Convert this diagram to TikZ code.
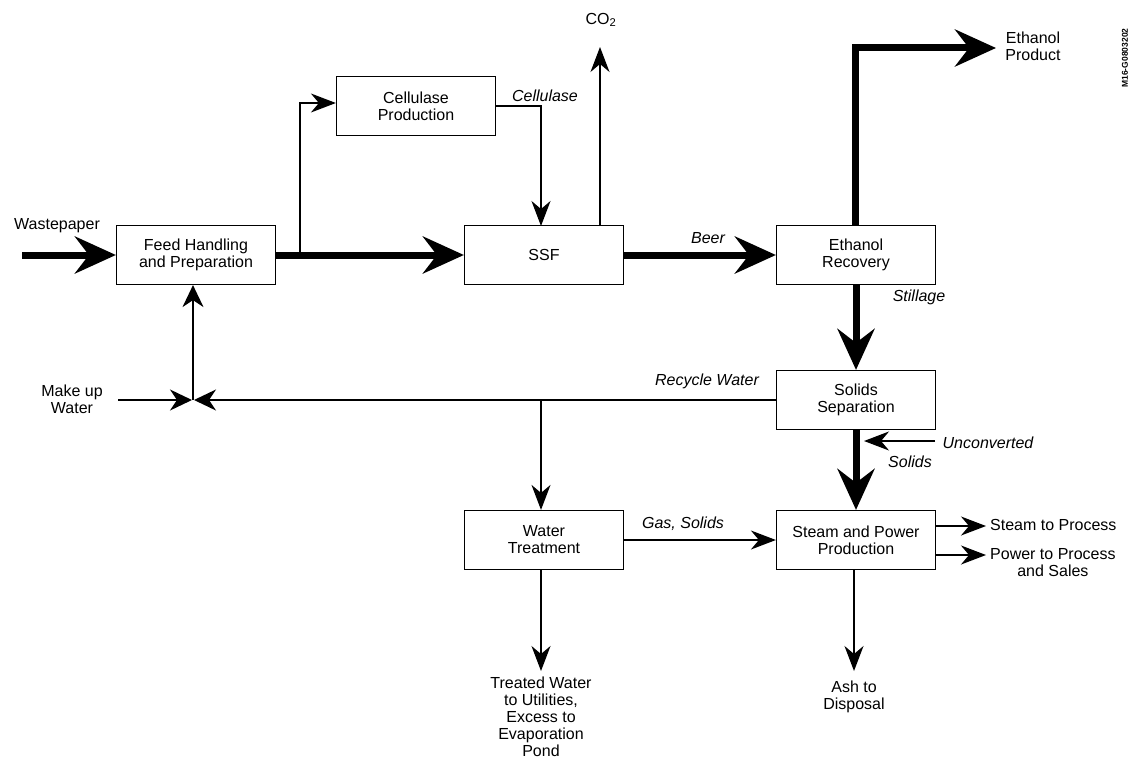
\documentclass[tikz,border=0pt]{standalone}
\usepackage{fontspec}
\setmainfont{Liberation Sans}
\usetikzlibrary{arrows.meta}
\newcommand\lbl{\fontsize{16}{17}\selectfont}
\newcommand\ilbl{\fontsize{16}{17}\selectfont\itshape}
\tikzset{
  box/.style={draw, line width=1.2pt, minimum width=159pt, minimum height=59pt, align=center, inner sep=0pt, font=\lbl},
  txt/.style={align=center, inner sep=0pt, font=\lbl},
  itxt/.style={align=center, inner sep=0pt, font=\ilbl},
  thickflow/.style={line width=7pt, -{Stealth[length=41pt,width=37pt,inset=14pt]}},
  thinflow/.style={line width=1.4pt, -{Stealth[length=25pt,width=19pt,inset=8pt]}},
  smallflow/.style={line width=1.4pt, -{Stealth[length=22pt,width=21pt,inset=7pt]}},
}
\begin{document}
\begin{tikzpicture}[x=1pt,y=-1pt]
\useasboundingbox (0,0) rectangle (1131,760);
% boxes
\node[box] (feed) at (196,255) {Feed Handling\\and Preparation};
\node[box] (cell) at (416,106) {Cellulase\\Production};
\node[box] (ssf)  at (544,255) {SSF};
\node[box] (er)   at (856,255) {Ethanol\\Recovery};
\node[box] (ss)   at (856,400) {Solids\\Separation};
\node[box] (wt)   at (544,540) {Water\\Treatment};
\node[box] (sp)   at (856,540) {Steam and Power\\Production};
% labels
\node[txt] (wpl) at (57,226) {Wastepaper};
\node[txt] (co2l) at (601,20) {CO\textsubscript{2}};
\node[txt] (epl) at (1033,46) {Ethanol\\Product};
\node[txt] (mul) at (72,399) {Make up\\Water};
\node[txt,anchor=west] (stl) at (990,525) {Steam to Process};
\node[txt,anchor=west] (pwl) at (990,563) {Power to Process\\and Sales};
\node[txt] (ashl) at (854,697) {Ash to\\Disposal};
\node[txt,anchor=north] (twl) at (541,677) {Treated Water\\to Utilities,\\Excess to\\Evaporation\\Pond};
\node[itxt] (celll) at (545,96) {Cellulase};
\node[itxt] (beerl) at (708,238) {Beer};
\node[itxt] (stil) at (919,297) {Stillage};
\node[itxt] (rwl) at (707,381) {Recycle Water};
\node[itxt] (ucl) at (988,443) {Unconverted};
\node[itxt] (sol) at (910,462) {Solids};
\node[itxt] (gsl) at (683,524) {Gas, Solids};
\node[rotate=90, inner sep=0pt, font=\fontsize{8.5}{9}\selectfont\bfseries] (code) at (1125,58) {M16-G0803202};
% coordinates
\coordinate (wp) at (22,255);
\coordinate (j1) at (300,255);
\coordinate (c2) at (541,226);
\coordinate (co2s) at (600,226);
\coordinate (co2e) at (600,47);
\coordinate (ep) at (996,48);
\coordinate (mj) at (193,400);
\coordinate (mu) at (118,400);
\coordinate (wb) at (541,400);
\coordinate (ucs) at (935,441);
\coordinate (uce) at (864,441);
\coordinate (ste) at (986,526);
\coordinate (pwe) at (986,555);
\coordinate (ashe) at (854,671);
\coordinate (twe) at (541,671);
% connectors
\draw[thickflow] (wp) -- (feed.west);
\draw[thickflow] (feed.east) -- (ssf.west);
\draw[thinflow] (j1) |- ([yshift=3pt]cell.west);
\draw[thinflow] (cell.east) -| (c2);
\draw[thinflow] (co2s) -- (co2e);
\draw[thickflow] (ssf.east) -- (er.west);
\draw[thickflow] ([xshift=-1pt]er.north) |- (ep);
\draw[thickflow] (er.south) -- (ss.north);
\draw[smallflow] (ss.west) -- ([xshift=1pt]mj);
\draw[smallflow] (mu) -- ([xshift=-1pt]mj);
\draw[smallflow] (mj) -- (feed.south -| mj);
\draw[thinflow] (wb) -- (wt.north -| wb);
\draw[thickflow] (ss.south) -- (sp.north);
\draw[thinflow] (ucs) -- (uce);
\draw[thinflow] (wt.east) -- (sp.west);
\draw[thinflow] (sp.east |- ste) -- (ste);
\draw[thinflow] (sp.east |- pwe) -- (pwe);
\draw[thinflow] ([xshift=-2pt]sp.south) -- (ashe);
\draw[thinflow] ([xshift=-3pt]wt.south) -- (twe);
\end{tikzpicture}
\end{document}
